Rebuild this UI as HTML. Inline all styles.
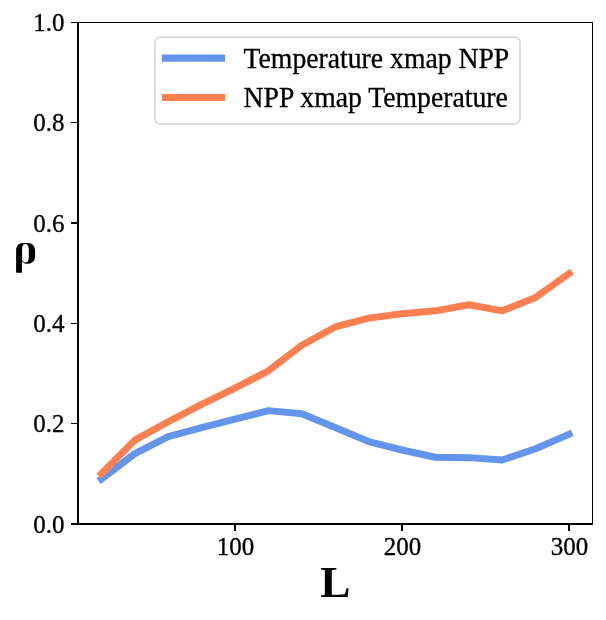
<!DOCTYPE html>
<html><head><meta charset="utf-8"><style>
html,body{margin:0;padding:0;background:#fff;}
svg{display:block;will-change:transform;}
text{font-family:"Liberation Serif",serif;fill:#000;}
.tl{stroke:#000;stroke-width:0.32px;}
.lg{stroke:#000;stroke-width:0.3px;}
</style></head><body>
<svg width="606" height="620" viewBox="0 0 606 620">
<rect width="606" height="620" fill="#fff"/>
<polyline points="101.40,479.00 134.80,453.66 168.20,436.60 201.60,427.67 235.00,419.20 268.40,410.62 301.80,413.83 335.20,427.52 368.60,441.52 402.00,450.00 435.40,457.27 468.80,457.63 502.20,459.98 535.60,448.80 569.00,434.30" fill="none" stroke="#6495ed" stroke-width="7" stroke-linecap="square" stroke-linejoin="round"/>
<polyline points="101.40,473.73 134.80,440.12 168.20,421.80 201.60,404.29 235.00,388.09 268.40,370.78 301.80,345.29 335.20,326.98 368.60,318.10 402.00,313.69 435.40,310.83 468.80,304.71 502.20,310.83 535.60,297.38 569.00,273.55" fill="none" stroke="#ff7f50" stroke-width="7" stroke-linecap="square" stroke-linejoin="round"/>
<g shape-rendering="crispEdges" fill="#000">
<rect x="77" y="22" width="2" height="503"/>
<rect x="592" y="22" width="1" height="503"/>
<rect x="77" y="22" width="516" height="1"/>
<rect x="77" y="523" width="516" height="2"/>
<rect x="71" y="523.25" width="7" height="1.5"/>
<rect x="71" y="422.75" width="7" height="1.5"/>
<rect x="71" y="322.75" width="7" height="1.5"/>
<rect x="71" y="222.25" width="7" height="1.5"/>
<rect x="71" y="121.75" width="7" height="1.5"/>
<rect x="71" y="21.75" width="7" height="1.5"/>
<rect x="234.20" y="524" width="1.6" height="6.5"/>
<rect x="401.20" y="524" width="1.6" height="6.5"/>
<rect x="568.20" y="524" width="1.6" height="6.5"/>
</g>
<text transform="translate(64.5,532.70) scale(1,1.045)" font-size="25" text-anchor="end" class="tl">0.0</text>
<text transform="translate(64.5,432.20) scale(1,1.045)" font-size="25" text-anchor="end" class="tl">0.2</text>
<text transform="translate(64.5,332.20) scale(1,1.045)" font-size="25" text-anchor="end" class="tl">0.4</text>
<text transform="translate(64.5,231.70) scale(1,1.045)" font-size="25" text-anchor="end" class="tl">0.6</text>
<text transform="translate(64.5,131.20) scale(1,1.045)" font-size="25" text-anchor="end" class="tl">0.8</text>
<text transform="translate(64.5,31.20) scale(1,1.045)" font-size="25" text-anchor="end" class="tl">1.0</text>
<text transform="translate(235.50,554.6) scale(1,1.045)" font-size="25" text-anchor="middle" class="tl">100</text>
<text transform="translate(402.50,554.6) scale(1,1.045)" font-size="25" text-anchor="middle" class="tl">200</text>
<text transform="translate(569.50,554.6) scale(1,1.045)" font-size="25" text-anchor="middle" class="tl">300</text>
<text transform="translate(335.47,596.8) scale(1.03,1)" font-size="44" font-weight="bold" text-anchor="middle">L</text>
<path fill="#000" fill-rule="evenodd" d="M16.1 272.7 L16.1 250.5 C16.1 246 18.6 243 22.8 243 L28 243 C32.5 243 35.1 246.5 35.1 250.8 L35.1 256.5 C35.1 260.8 32 263.8 27.5 263.8 C25 263.8 23.2 262.8 21.9 261.2 L21.9 272.7 Z M25.4 244.1 C27.7 244.1 28.8 246.5 28.8 250.5 L28.8 257.5 C28.8 260.8 27.4 262.4 25.5 262.4 C23.8 262.4 22.1 261 22.1 259.5 L22.1 249 C22.1 246 23.5 244.1 25.4 244.1 Z"/>
<rect x="155" y="37.3" width="365" height="86.6" rx="5" ry="5" fill="#fff" fill-opacity="0.8" stroke="#d6d6d6" stroke-width="1.6"/>
<line x1="165.5" y1="58.1" x2="221.5" y2="58.1" stroke="#6495ed" stroke-width="7.3" stroke-linecap="square"/>
<line x1="165.5" y1="97.5" x2="221.5" y2="97.5" stroke="#ff7f50" stroke-width="7" stroke-linecap="square"/>
<text transform="translate(243.6,68) scale(1,1.04)" font-size="27.7" class="lg">Temperature xmap NPP</text>
<text transform="translate(243.6,107) scale(1,1.04)" font-size="27.7" class="lg">NPP xmap Temperature</text>
</svg></body></html>
